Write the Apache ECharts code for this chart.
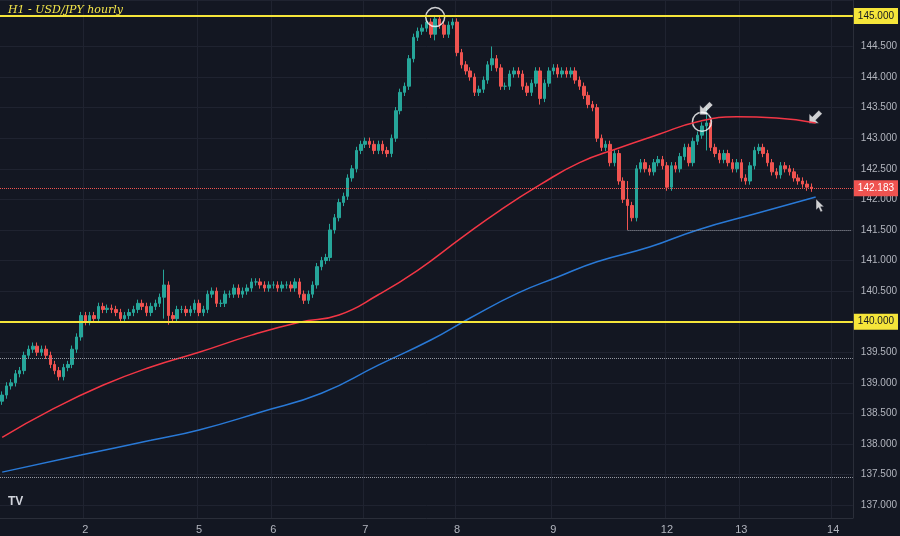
<!DOCTYPE html>
<html><head><meta charset="utf-8">
<script src="https://cdn.jsdelivr.net/npm/echarts@6/dist/echarts.min.js"></script>
<style>html,body{margin:0;background:#131722}#c{width:900px;height:536px}</style>
</head><body><div id="c"></div>
<script>
const closes=[138.8,138.95,139.0,139.15,139.2,139.45,139.55,139.6,139.5,139.55,
139.45,139.3,139.2,139.1,139.25,139.3,139.55,139.75,140.1,140.0,
140.1,140.05,140.25,140.2,140.22,140.2,140.15,140.05,140.1,140.15,
140.2,140.3,140.25,140.15,140.25,140.3,140.4,140.6,140.1,140.05,
140.2,140.2,140.15,140.2,140.3,140.15,140.2,140.45,140.5,140.3,
140.3,140.45,140.45,140.55,140.45,140.5,140.55,140.65,140.65,140.6,
140.55,140.6,140.6,140.55,140.6,140.6,140.55,140.65,140.45,140.35,
140.45,140.6,140.9,141.0,141.05,141.5,141.7,141.95,142.05,142.35,
142.5,142.8,142.9,142.95,142.9,142.8,142.9,142.8,142.75,143.0,
143.45,143.75,143.85,144.3,144.65,144.75,144.8,144.9,144.7,144.95,
144.85,144.7,144.85,144.9,144.4,144.2,144.1,144.0,143.75,143.8,
143.95,144.2,144.3,144.15,143.85,143.85,144.05,144.1,144.05,143.85,
143.75,143.9,144.1,143.65,143.9,144.1,144.15,144.05,144.1,144.05,
144.1,143.95,143.85,143.7,143.55,143.5,143.0,142.85,142.9,142.6,
142.75,142.3,142.0,141.9,141.7,142.5,142.6,142.5,142.45,142.6,
142.65,142.55,142.2,142.55,142.5,142.7,142.85,142.6,142.95,143.05,
143.2,143.25,142.85,142.75,142.65,142.75,142.6,142.5,142.6,142.35,
142.3,142.55,142.8,142.85,142.75,142.6,142.45,142.4,142.55,142.5,
142.45,142.35,142.3,142.25,142.2,142.183];
const firstOpen=138.7;
const wick=0.06;
const bigWicks={37:[140.85,140.05],143:[142.3,141.5],99:[145.0,144.6],112:[144.5,144.1],123:[143.9,143.55],161:[143.5,142.8],38:[140.6,139.95],75:[141.6,141.3]};
const redIdx=[0,11,23,34,45,57,68,77,86,95,105,114,123,132,141,150,159,168,177,186];
const redMA=[138.11,138.55,138.96,139.26,139.5,139.78,139.99,140.11,140.44,140.84,141.37,141.83,142.24,142.6,142.84,143.06,143.27,143.35,143.33,143.25];
const blueIdx=[0,18,34,45,59,73,86,98,107,118,127,136,148,159,173,186];
const blueMA=[137.54,137.82,138.06,138.23,138.52,138.83,139.29,139.7,140.06,140.47,140.73,140.98,141.22,141.5,141.78,142.04];
const labelIdx=[19,45,62,83,104,126,152,169,190];
const labelText=['2','5','6','7','8','9','12','13','14'];
const N=195;

const cats=[];for(let i=0;i<N;i++){const k=labelIdx.indexOf(i);cats.push(k>=0?labelText[k]:' '+i);}
const ohlc=closes.map((c,i)=>{const o=i?closes[i-1]:firstOpen;let h=Math.max(o,c)+wick,l=Math.min(o,c)-wick;if(bigWicks[i]){h=Math.max(h,bigWicks[i][0]);l=Math.min(l,bigWicks[i][1]);}return [o,c,l,h];});
const red=new Array(N).fill(null);redIdx.forEach((k,j)=>red[k]=redMA[j]);
const blue=new Array(N).fill(null);blueIdx.forEach((k,j)=>blue[k]=blueMA[j]);
const showIdx=(i)=>labelIdx.includes(i);
const arrowDL='path://M0,10 L0,2 L2.6,4.6 L8,-0.8 L10.8,2 L5.4,7.4 L8,10 Z';
const cursorUL='path://M0,0 L0,11 L2.6,8.6 L4.6,13 L6.6,12 L4.6,7.8 L8,7.8 Z';
const ch=echarts.init(document.getElementById('c'));
ch.setOption({
 backgroundColor:'#131722',animation:false,
 title:{text:'H1 - USD/JPY hourly',left:3,top:0,textStyle:{color:'#f5e74a',fontSize:11,fontStyle:'italic',fontFamily:'DejaVu Serif',fontWeight:'normal'}},
 graphic:[{type:'text',left:8,top:496,style:{text:'TV',fill:'#d1d4dc',font:'bold 12px sans-serif'}}],
 grid:{left:0,right:42,top:0,bottom:18},
 xAxis:{type:'category',data:cats,boundaryGap:true,
  axisLine:{lineStyle:{color:'#2a2e39'}},axisTick:{show:false},
  axisLabel:{color:'#b2b5be',fontSize:11,interval:showIdx,margin:6},
  splitLine:{show:true,interval:showIdx,lineStyle:{color:'#1f2330'}}},
 yAxis:{type:'value',position:'right',min:136.79,max:145.26,splitNumber:17,
  axisLine:{show:true,lineStyle:{color:'#2a2e39'}},axisTick:{show:false},
  axisLabel:{color:'#b2b5be',fontSize:10,margin:8,showMinLabel:false,showMaxLabel:false,formatter:v=>v.toFixed(3)},
  splitLine:{lineStyle:{color:'#1f2330'}}},
 series:[
  {type:'candlestick',data:ohlc,barWidth:3,
   itemStyle:{color:'#26a69a',color0:'#ef5350',borderColor:'#26a69a',borderColor0:'#ef5350'},
   markLine:{symbol:'none',silent:true,data:[
    {yAxis:145,lineStyle:{color:'#f5e53a',width:2,type:'solid'},label:{show:true,position:'end',formatter:'145.000',backgroundColor:'#f5e53a',color:'#131722',fontSize:10,padding:[3,4],distance:1}},
    {yAxis:140,lineStyle:{color:'#f5e53a',width:2,type:'solid'},label:{show:true,position:'end',formatter:'140.000',backgroundColor:'#f5e53a',color:'#131722',fontSize:10,padding:[3,4],distance:1}},
    {yAxis:142.183,lineStyle:{color:'#ef5350',width:1,type:'dotted'},label:{show:true,position:'end',formatter:'142.183',backgroundColor:'#ef5350',color:'#fff',fontSize:10,padding:[3,4],distance:1}},
    {yAxis:139.4,lineStyle:{color:'#9598a1',width:1,type:'dotted'},label:{show:false}},
    {yAxis:137.45,lineStyle:{color:'#9598a1',width:1,type:'dotted'},label:{show:false}},
    [{coord:[143,141.5],lineStyle:{color:'#9598a1',width:1,type:'dotted'},label:{show:false}},{coord:[N-1,141.5]}]
   ]}},
  {type:'line',data:red,connectNulls:true,smooth:true,showSymbol:false,lineStyle:{color:'#f23645',width:1.5}},
  {type:'line',data:blue,connectNulls:true,smooth:true,showSymbol:false,lineStyle:{color:'#2979d6',width:1.5}},
  {type:'scatter',data:[[99,144.98],[160,143.27]],symbol:'circle',symbolSize:19,itemStyle:{color:'transparent',borderColor:'#ffffff',borderWidth:1.5}},
  {type:'scatter',data:[{value:[161.3,143.49],symbol:arrowDL},{value:[185.9,143.35],symbol:arrowDL},{value:[186.5,141.9],symbol:cursorUL}],symbolSize:13,symbolKeepAspect:true,itemStyle:{color:'#ffffff',borderColor:'#131722',borderWidth:0.5}}
 ]
});
</script></body></html>
